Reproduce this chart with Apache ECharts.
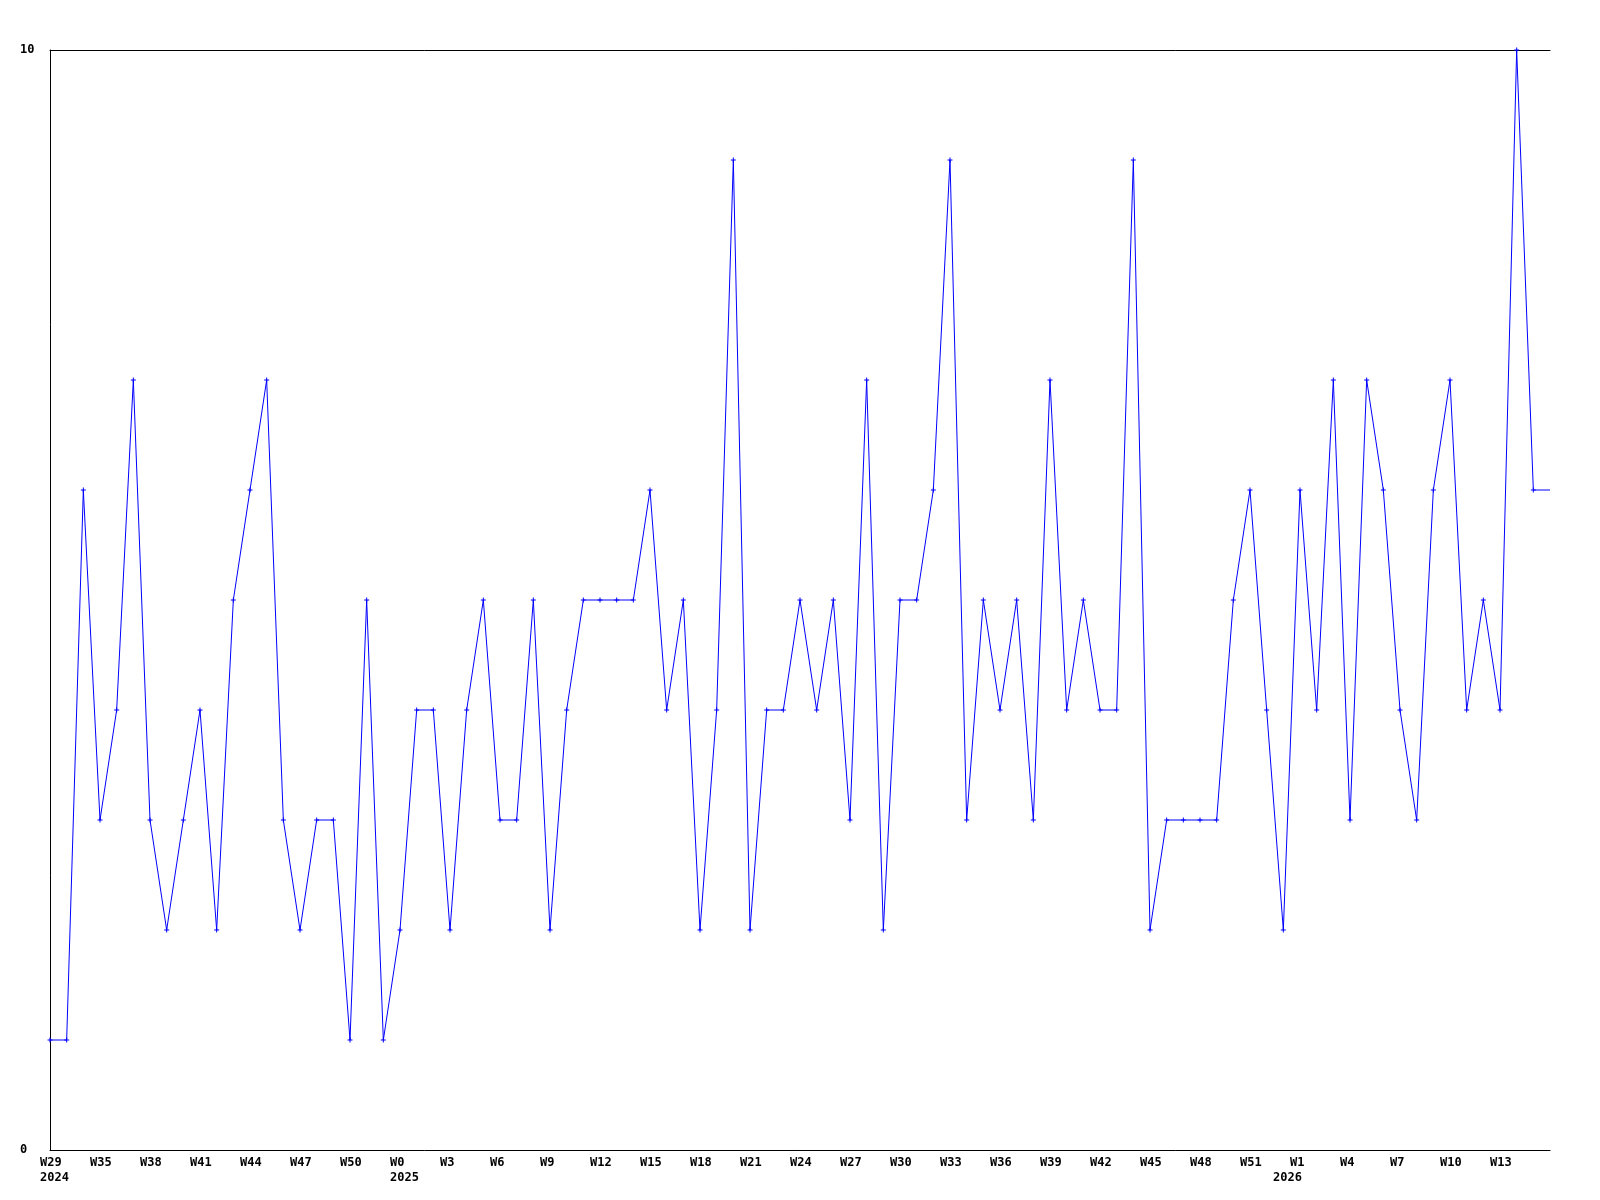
<!DOCTYPE html>
<html>
<head>
<meta charset="utf-8">
<title>Weekly chart</title>
<script src="https://cdn.jsdelivr.net/npm/echarts@6/dist/echarts.min.js"></script>
<style>
  html, body { margin: 0; padding: 0; background: #ffffff; }
  #chart { width: 1600px; height: 1200px; }
</style>
</head>
<body>
<div id="chart"></div>
<script>
// weekly values, one per week (91 points)
const values = [
  1, 1, 6, 3, 4, 7, 3, 2, 3, 4, 2, 5, 6, 7, 3, 2, 3, 3, 1, 5,
  1, 2, 4, 4, 2, 4, 5, 3, 3, 5, 2, 4, 5, 5, 5, 5, 6, 4, 5, 2,
  4, 9, 2, 4, 4, 5, 4, 5, 3, 7, 2, 5, 5, 6, 9, 3, 5, 4, 5, 3,
  7, 4, 5, 4, 4, 9, 2, 3, 3, 3, 3, 5, 6, 4, 2, 6, 4, 7, 3, 7,
  6, 4, 3, 6, 7, 4, 5, 4, 10, 6, 6
];

// label shown on every third week
const tickLabels = [
  'W29\n2024', 'W35', 'W38', 'W41', 'W44', 'W47', 'W50', 'W0\n2025', 'W3', 'W6',
  'W9', 'W12', 'W15', 'W18', 'W21', 'W24', 'W27', 'W30', 'W33', 'W36',
  'W39', 'W42', 'W45', 'W48', 'W51', 'W1\n2026', 'W4', 'W7', 'W10', 'W13'
];

const categories = values.map((v, i) => String(i));

const chart = echarts.init(document.getElementById('chart'));

const font = '"DejaVu Sans Mono", monospace';

const seriesData = values.map((v, i) => {
  // the last point only carries the line to the edge, no marker
  if (i === values.length - 1) return { value: v, symbol: 'none' };
  return v;
});

const labelText = {
  fontFamily: font,
  fontWeight: 'bold',
  fontSize: 12,
  lineHeight: 15,
  color: '#000000',
  align: 'left',
};

const option = {
  animation: false,
  backgroundColor: '#ffffff',
  grid: {
    left: 50,
    right: 50,
    top: 50,
    bottom: 50,
    containLabel: false,
  },
  xAxis: [
    {
      type: 'category',
      data: categories,
      boundaryGap: false,
      axisLine: { lineStyle: { color: '#000000', width: 1 } },
      axisTick: { show: false },
      splitLine: { show: false },
      axisLabel: {
        interval: 2,
        showMaxLabel: false,
        margin: 5,
        align: 'center',
        formatter: (val, idx) => {
          const t = tickLabels[idx / 3];
          if (!t) return '';
          const parts = t.split('\n');
          // the 2026 year sits further left than its week label
          if (parts[1] === '2026') {
            return '{c|' + parts[0] + '}\n{b|' + parts[1] + '}';
          }
          return parts.map(s => '{a|' + s + '}').join('\n');
        },
        rich: {
          a: Object.assign({ width: 20 }, labelText),
          b: Object.assign({ width: 54 }, labelText),
          c: Object.assign({ width: 20, padding: [0, 0, 0, 17] }, labelText),
        },
      },
    },
    {
      // top frame line
      type: 'category',
      position: 'top',
      data: categories,
      boundaryGap: false,
      axisLine: { lineStyle: { color: '#000000', width: 1 } },
      axisTick: { show: false },
      axisLabel: { show: false },
      splitLine: { show: false },
    },
  ],
  yAxis: {
    type: 'value',
    min: 0,
    max: 10,
    interval: 10,
    axisLine: { show: true, lineStyle: { color: '#000000', width: 1 } },
    axisTick: { show: false },
    splitLine: { show: false },
    axisLabel: {
      margin: 30,
      align: 'left',
      padding: [2, 0, 0, 0],
      fontFamily: font,
      fontWeight: 'bold',
      fontSize: 12,
      color: '#000000',
    },
  },
  series: [
    {
      type: 'line',
      data: seriesData,
      xAxisIndex: 0,
      symbol: 'path://M2,0H3V2H5V3H3V5H2V3H0V2H2Z',
      symbolSize: 5,
      showSymbol: true,
      lineStyle: { color: '#0000ff', width: 1 },
      itemStyle: { color: '#0000ff', borderWidth: 0 },
    },
  ],
};

chart.setOption(option);

window.addEventListener('resize', () => chart.resize());
</script>
</body>
</html>
